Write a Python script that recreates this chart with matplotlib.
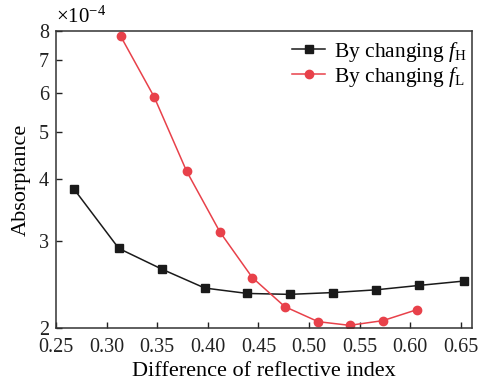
import matplotlib
matplotlib.use("Agg")
import matplotlib.pyplot as plt
from matplotlib.ticker import FixedLocator, FixedFormatter, NullLocator

plt.rcParams['font.family'] = ['Liberation Serif', 'DejaVu Serif']
plt.rcParams['mathtext.fontset'] = 'custom'
plt.rcParams['mathtext.rm'] = 'Liberation Serif'
plt.rcParams['mathtext.it'] = 'Liberation Serif:italic'

# data (absorptance in units of 1e-4)
x_fH = [0.268, 0.312, 0.355, 0.397, 0.439, 0.481, 0.524, 0.566, 0.609, 0.653]
y_fH = [3.82, 2.90, 2.63, 2.41, 2.35, 2.34, 2.36, 2.39, 2.44, 2.49]
x_fL = [0.314, 0.347, 0.379, 0.412, 0.444, 0.476, 0.509, 0.540, 0.573, 0.607]
y_fL = [7.80, 5.88, 4.16, 3.13, 2.53, 2.21, 2.06, 2.025, 2.07, 2.18]

xticks = [0.25, 0.30, 0.35, 0.40, 0.45, 0.50, 0.55, 0.60, 0.65]
xticklabels = ['0.25', '0.30', '0.35', '0.40', '0.45', '0.50', '0.55', '0.60', '0.65']
yticks = [2, 3, 4, 5, 6, 7, 8]
yticklabels = ['2', '3', '4', '5', '6', '7', '8']

fig = plt.figure(figsize=(4.81, 3.84), dpi=100)
ax = fig.add_axes([56/481, 1-328/384, (472-56)/481, (328-31)/384])

red = '#e8414a'
ax.plot(x_fH, y_fH, '-s', color='#1a1a1a', lw=1.1, ms=5.5,
        label=r'By changing $\mathit{f}_{\mathrm{H}}$')
ax.plot(x_fL, y_fL, '-o', color=red, lw=1.1, ms=6,
        label=r'By changing $\mathit{f}_{\mathrm{L}}$')

ax.set_yscale('log')
ax.set_ylim(2, 8)
ax.set_xlim(0.25, 0.661)
ax.yaxis.set_major_locator(FixedLocator(yticks))
ax.yaxis.set_major_formatter(FixedFormatter(yticklabels))
ax.yaxis.set_minor_locator(NullLocator())
ax.set_xticks(xticks)
ax.set_xticklabels(xticklabels)

ax.tick_params(direction='in', length=4, width=1, labelsize=14.5, colors='#222222')
ax.tick_params(axis='x', pad=7)
ax.tick_params(axis='y', pad=5)
for s in ax.spines.values():
    s.set_linewidth(1.1)
    s.set_color('#333333')

ax.set_xlabel('Difference of reflective index', fontsize=16, labelpad=4)
ax.set_ylabel('Absorptance', fontsize=16, labelpad=6)
ax.text(0.0, 1.01, r'$\times$10$^{-4}$', transform=ax.transAxes, fontsize=15,
        ha='left', va='bottom')

ax.legend(loc='upper right', frameon=False, fontsize=15.5, handlelength=1.55,
          handletextpad=0.4, borderaxespad=0.2, labelspacing=0.05,
          bbox_to_anchor=(1.019, 1.014))

fig.savefig('out.png', dpi=100)
